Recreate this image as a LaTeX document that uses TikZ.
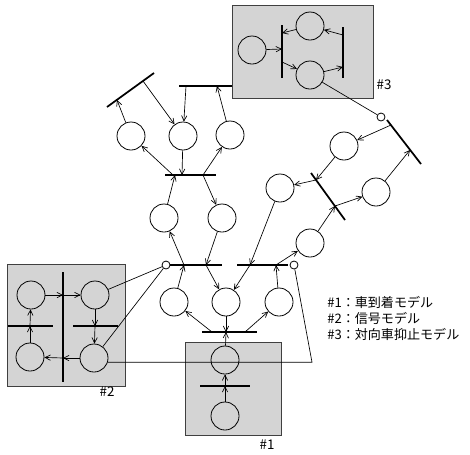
\documentclass[tikz,border=0pt]{standalone}
\usepackage{fontspec}
\newfontfamily\jpfont{Noto Sans CJK JP}
\usetikzlibrary{arrows.meta}
\begin{document}
\begin{tikzpicture}[x=0.75pt,y=-0.75pt,
  pl/.style={circle,draw,line width=0.6pt,inner sep=0pt,minimum size=21pt},
  sp/.style={circle,draw,line width=0.6pt,inner sep=0pt,minimum size=6pt},
  tr/.style={line width=1.3pt},
  arc/.style={line width=0.5pt,-{Straight Barb[length=4pt,width=4pt]}},
  ln/.style={line width=0.5pt},
  box/.style={draw=black!75,line width=0.6pt,fill=black!17},
  lbl/.style={font=\jpfont\fontsize{10}{11}\selectfont,inner sep=0pt},
  leg/.style={font=\jpfont\fontsize{9.8}{11}\selectfont,inner sep=0pt,anchor=west}]
\useasboundingbox (0,0) rectangle (470,454);
% sub-model boxes
\path[box] (185,342) rectangle (281,435);
\path[box] (7,264) rectangle (125,386);
\path[box] (232,5) rectangle (373,98);
\node[lbl] (L1) at (267,445) {\#1};
\node[lbl] (L2) at (107,392) {\#2};
\node[lbl] (L3) at (384,85) {\#3};
% places
\node[pl] (C1) at (131,136) {};
\node[pl] (C2) at (183,136) {};
\node[pl] (C3) at (230,135) {};
\node[pl] (C4) at (164,218) {};
\node[pl] (C5) at (222,218) {};
\node[pl] (C6) at (174,302) {};
\node[pl] (C7) at (226,302) {};
\node[pl] (C8) at (279,302) {};
\node[pl] (C9) at (280,188) {};
\node[pl] (C10) at (310,243) {};
\node[pl] (C13) at (344,146) {};
\node[pl] (C14) at (376,192) {};
\node[pl] (C11) at (225,360) {};
\node[pl] (C12) at (225,416) {};
\node[pl] (B2TL) at (31,295) {};
\node[pl] (B2TR) at (95,295) {};
\node[pl] (B2BL) at (30,357) {};
\node[pl] (B2BR) at (94,358) {};
\node[pl] (B3L) at (252,50) {};
\node[pl] (B3T) at (310,26) {};
\node[pl] (B3B) at (310,75) {};
\node[sp] (P1) at (166,265) {};
\node[sp] (P2) at (294,265) {};
\node[sp] (P3) at (381,117) {};
% transitions
\coordinate (Ta1) at (107,107); \coordinate (Ta2) at (154,73);
\coordinate (Tb1) at (179,86);  \coordinate (Tb2) at (232,86);
\coordinate (Tc1) at (165,175); \coordinate (Tc2) at (216,175);
\coordinate (Td1) at (170,265); \coordinate (Td2) at (222,265);
\coordinate (Te1) at (237,265); \coordinate (Te2) at (288,265);
\coordinate (Tf1) at (202,332); \coordinate (Tf2) at (257,332);
\coordinate (Tg1) at (200,386); \coordinate (Tg2) at (250,386);
\coordinate (Th1) at (63,272);  \coordinate (Th2) at (63,382);
\coordinate (Tl1) at (8,326);   \coordinate (Tl2) at (53,326);
\coordinate (Tr1) at (73,326);  \coordinate (Tr2) at (118,326);
\coordinate (Tm1) at (282,25);  \coordinate (Tm2) at (282,78);
\coordinate (Tn1) at (343,27);  \coordinate (Tn2) at (343,78);
\coordinate (Ti1) at (387,120); \coordinate (Ti2) at (421,164);
\coordinate (Tj1) at (311,173); \coordinate (Tj2) at (345,220);
\foreach \t in {a,b,c,d,e,f,g,h,l,r,m,n,i,j}{\draw[tr] (T\t1) -- (T\t2);}
% contact points
\coordinate (a1) at (117,100); \coordinate (a2) at (143,81);
\coordinate (b1) at (186,86);  \coordinate (b2) at (217,86);
\coordinate (c1) at (182,175); \coordinate (c2) at (173,175);
\coordinate (c3) at (203,175); \coordinate (c4) at (175,175);
\coordinate (d1) at (184,265); \coordinate (d2) at (206,265);
\coordinate (e1) at (250,265); \coordinate (e2) at (276,265);
\coordinate (f1) at (226,332); \coordinate (f2) at (212,332); \coordinate (f3) at (245,332);
\coordinate (g1) at (225,386);
\coordinate (h1) at (63,295);  \coordinate (h2) at (63,358);
\coordinate (l1) at (30,326);  \coordinate (r1) at (95,326);
\coordinate (m1) at (282,49);  \coordinate (m2) at (282,33); \coordinate (m3) at (282,62);
\coordinate (n1) at (343,67);  \coordinate (n2) at (343,35);
\coordinate (i1) at (391,125); \coordinate (i2) at (410,150);
\coordinate (j1) at (316,180); \coordinate (j2) at (335,206);
\coordinate (k1) at (312,363);
% arcs
\draw[arc] (C1) -- (a1);
\draw[arc] (a2) -- (C2);
\draw[arc] (b1) -- (C2);
\draw[arc] (C3) -- (b2);
\draw[arc] (C2) -- (c1);
\draw[arc] (c2) -- (C1);
\draw[arc] (c3) -- (C3);
\draw[arc] (C4) -- (c4);
\draw[arc] (c3) -- (C5);
\draw[arc] (d1) -- (C4);
\draw[arc] (C5) -- (d2);
\draw[arc] (C6) -- (d1);
\draw[arc] (d2) -- (C7);
\draw[arc] (e1) -- (C7);
\draw[arc] (C8) -- (e2);
\draw[arc] (C9) -- (e1);
\draw[arc] (e2) -- (C10);
\draw[arc] (C7) -- (f1);
\draw[arc] (f2) -- (C6);
\draw[arc] (f3) -- (C8);
\draw[arc] (C11) -- (f1);
\draw[arc] (C12) -- (g1);
\draw[arc] (g1) -- (C11);
\draw[arc] (B2TL) -- (h1);
\draw[arc] (h1) -- (B2TR);
\draw[arc] (B2TR) -- (r1);
\draw[arc] (r1) -- (B2BR);
\draw[arc] (B2BR) -- (h2);
\draw[arc] (h2) -- (B2BL);
\draw[arc] (B2BL) -- (l1);
\draw[arc] (l1) -- (B2TL);
\draw[arc] (B3L) -- (m1);
\draw[arc] (B3T) -- (m2);
\draw[arc] (m3) -- (B3B);
\draw[arc] (B3B) -- (n1);
\draw[arc] (n2) -- (B3T);
\draw[arc] (i1) -- (C13);
\draw[arc] (C14) -- (i2);
\draw[arc] (C13) -- (j1);
\draw[arc] (j1) -- (C9);
\draw[arc] (C10) -- (j2);
\draw[arc] (j2) -- (C14);
% plain links
\draw[ln] (B2TR) -- (P1);
\draw[ln] (B2BR) -- (P1);
\draw[ln] (B2BR.-17) -- (B2BR.-17 -| k1) -- (P2);
\draw[ln] (B3B) -- (P3);
% legend
\node[leg] (G1) at (327,302) {\#1：車到着モデル};
\node[leg] (G2) at (327,318) {\#2：信号モデル};
\node[leg] (G3) at (327,334) {\#3：対向車抑止モデル};
\end{tikzpicture}
\end{document}
